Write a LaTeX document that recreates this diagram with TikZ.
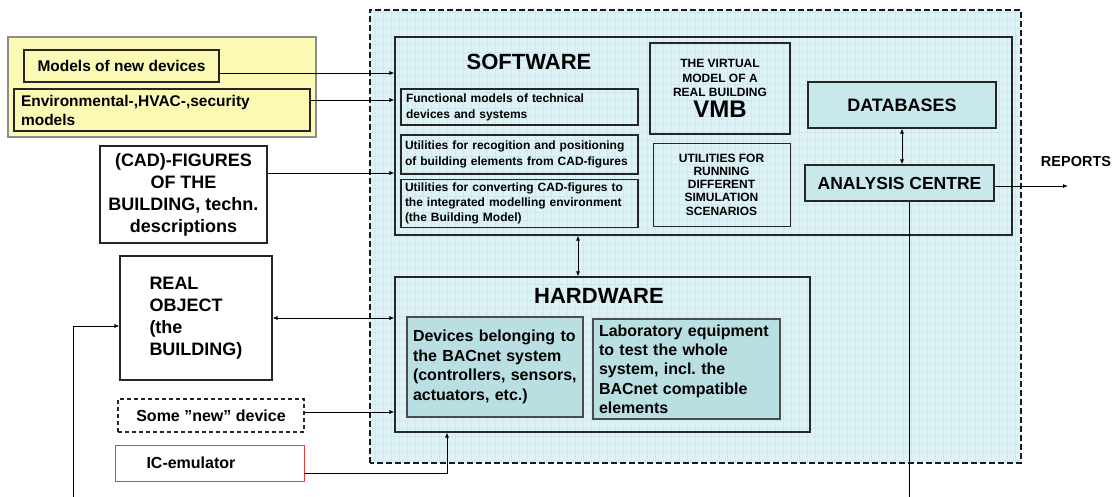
\documentclass[tikz,border=0pt]{standalone}
\usepackage{fontspec}
\setmainfont{Liberation Sans}
\usetikzlibrary{arrows.meta}

\definecolor{labbg}{RGB}{222,241,244}
\definecolor{labgrid}{RGB}{204,233,237}
\definecolor{padyellow}{RGB}{251,249,180}
\definecolor{boxteal}{RGB}{185,223,227}
\definecolor{dbteal}{RGB}{200,232,236}
\definecolor{icred}{RGB}{232,60,60}

\newcommand{\fs}[2]{\fontsize{#1}{#2}\selectfont}
\frenchspacing

\tikzset{
	box/.style={draw=black!85, line width=1.1pt, inner sep=3pt, font=\bfseries},
	arr/.style={-{Latex[length=5pt,width=4pt]}, line width=0.8pt},
	darr/.style={{Latex[length=5pt,width=4pt]}-{Latex[length=5pt,width=4pt]}, line width=0.8pt},
	title/.style={font=\bfseries\fs{22}{24}, inner sep=0pt}
}

\begin{document}
\begin{tikzpicture}[x=1pt,y=-1pt]
	\useasboundingbox (0,0) rectangle (1120,497);

	% virtual laboratory area
	\node[fill=labbg, minimum width=651, minimum height=453, inner sep=0pt,
		path picture={\draw[labgrid, line width=0.3pt, step=8pt] (path picture bounding box.south west) grid (path picture bounding box.north east);}]
		(vlab) at (695.5,236.5) {};
	\draw[black!90, line width=1.5pt, dash pattern=on 6pt off 3pt] (vlab.south west) rectangle (vlab.north east);

	% inputs on the left
	\node[box, draw=black!45, fill=padyellow, minimum width=308, minimum height=100] (pad) at (162,87) {};
	\node[box, fill=padyellow, minimum width=195, minimum height=32, font=\bfseries\fs{15.5}{18}] (models) at (121.5,66) {Models of new devices};
	\node[box, minimum width=296, minimum height=42, text width=282, align=left, font=\bfseries\fs{15.5}{19}] (env) at (162,110) {Environmental-,HVAC-,security\\models};
	\node[box, minimum width=167, minimum height=97, align=center, font=\bfseries\fs{18}{22}] (cad) at (183.5,194.5) {(CAD)-FIGURES\\OF THE\\BUILDING, techn.\\descriptions};
	\node[box, minimum width=152, minimum height=124, text width=93, align=left, font=\bfseries\fs{18}{22}] (real) at (196,318) {REAL\\OBJECT\\(the\\BUILDING)};
	\node[box, dash pattern=on 4pt off 3pt, minimum width=186, minimum height=33, font=\bfseries\fs{16}{19}] (newdev) at (211,415.5) {Some ”new” device};
	\node[box, draw=icred, line width=0.9pt, minimum width=189, minimum height=36, text width=126, align=left, font=\bfseries\fs{16}{19}] (ic) at (209.5,463) {IC-emulator};

	% software
	\node[box, minimum width=617, minimum height=198] (sw) at (703.5,136) {};
	\node[title] (swtitle) at (529,62) {SOFTWARE};
	\node[box, minimum width=237, minimum height=36, text width=227, align=left, font=\bfseries\fs{12}{16}] (func) at (519.5,107) {Functional models of technical\\devices and systems};
	\node[box, minimum width=237, minimum height=39, text width=229, align=left, font=\bfseries\fs{12}{15.5}] (recog) at (519.5,154.5) {Utilities for recogition and positioning\\of building elements from CAD-figures};
	\node[box, minimum width=237, minimum height=47, text width=229, align=left, font=\bfseries\fs{12}{15}] (conv) at (519.5,203.5) {Utilities for converting CAD-figures to\\the integrated modelling environment\\(the Building Model)};
	\node[box, minimum width=140, minimum height=91, align=center, font=\bfseries\fs{12}{14.5}] (vmb) at (720,88.5) {THE VIRTUAL\\MODEL OF A\\REAL BUILDING\\[3pt]\fs{24}{26}VMB};
	\node[box, line width=0.6pt, minimum width=137, minimum height=83, align=center, font=\bfseries\fs{12}{13.3}] (run) at (721.5,184.5) {UTILITIES FOR\\RUNNING\\DIFFERENT\\SIMULATION\\SCENARIOS};
	\node[box, fill=dbteal, minimum width=188, minimum height=46, font=\bfseries\fs{18}{20}] (db) at (902,105) {DATABASES};
	\node[box, fill=dbteal, minimum width=189, minimum height=36, font=\bfseries\fs{17.5}{20}] (ac) at (899.5,183) {ANALYSIS CENTRE};
	\node[font=\bfseries\fs{14.5}{16}, inner sep=0pt] (reports) at (1076,162) {REPORTS};

	% hardware
	\node[box, minimum width=415, minimum height=155] (hw) at (602.5,354.5) {};
	\node[title] (hwtitle) at (599,296) {HARDWARE};
	\node[box, draw=black!70, fill=boxteal, minimum width=176, minimum height=100, text width=164, inner ysep=1pt, align=left, font=\bfseries\fs{16}{19.5}] (dev) at (495,367) {Devices belonging to\\the BACnet system\\(controllers, sensors,\\actuators, etc.)};
	\node[box, draw=black!70, fill=boxteal, minimum width=187, minimum height=100, text width=175, inner ysep=1pt, align=left, font=\bfseries\fs{16}{19.3}] (lab) at (686.5,369) {Laboratory equipment\\to test the whole\\system, incl. the\\BACnet compatible\\elements};

	% connectors
	\coordinate (m1) at ([yshift=-7pt]models.east);
	\coordinate (e1) at ([yshift=10pt]env.east);
	\coordinate (c1) at ([yshift=21.5pt]cad.east);
	\coordinate (n1) at ([yshift=3.5pt]newdev.east);
	\coordinate (i1) at ([yshift=-10pt]ic.east);
	\coordinate (repend) at (1068,186);
	\coordinate (acout) at (909,497);
	\coordinate (bldin) at (73,497);
	\draw[arr] (m1) -- (m1 -| sw.west);
	\draw[arr] (e1) -- (e1 -| sw.west);
	\draw[arr] (c1) -- (c1 -| sw.west);
	\draw[darr] (hw.west |- real.east) -- (real.east);
	\draw[arr] (n1) -- (n1 -| hw.west);
	\draw[arr] (i1) -| (hw.south -| 447,0);
	\draw[darr] (sw.south -| 578,0) -- (hw.north -| 578,0);
	\draw[darr] (db.south) -- (db.south |- ac.north);
	\draw[arr] (ac.east |- repend) -- (repend);
	\draw[line width=0.8pt] (ac.south -| acout) -- (acout);
	\draw[arr] (bldin) |- ([yshift=-8pt]real.west);
\end{tikzpicture}
\end{document}
